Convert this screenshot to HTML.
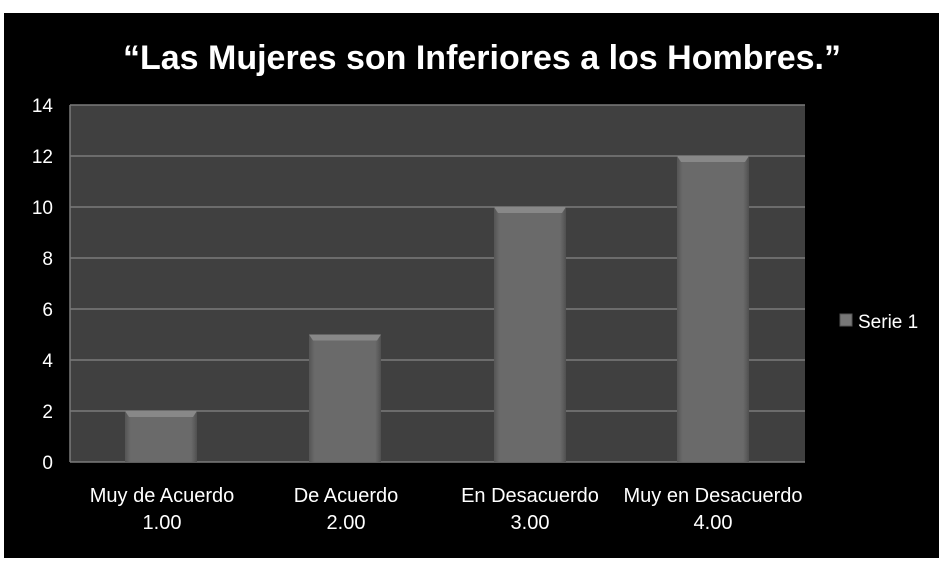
<!DOCTYPE html>
<html><head><style>
body{margin:0;background:#fff;width:943px;height:567px;overflow:hidden;font-family:"Liberation Sans",sans-serif}
</style></head><body>
<svg width="943" height="567" style="position:absolute;left:0;top:0">
<defs>
<linearGradient id="b" x1="0" x2="1" y1="0" y2="0">
<stop offset="0" stop-color="#555"/><stop offset="0.08" stop-color="#6a6a6a"/><stop offset="0.92" stop-color="#6a6a6a"/><stop offset="1" stop-color="#505050"/>
</linearGradient>
</defs>
<rect x="4" y="13" width="935" height="545" fill="#000"/>
<rect x="70" y="105" width="735" height="357" fill="#404040"/>
<g stroke="#7a7a7a" stroke-width="1.5">
<line x1="70" x2="805" y1="105" y2="105"/><line x1="70" x2="805" y1="156" y2="156"/>
<line x1="70" x2="805" y1="207" y2="207"/><line x1="70" x2="805" y1="258" y2="258"/>
<line x1="70" x2="805" y1="309" y2="309"/><line x1="70" x2="805" y1="360" y2="360"/>
<line x1="70" x2="805" y1="411" y2="411"/><line x1="70" x2="805" y1="462" y2="462"/>
<line x1="70" x2="70" y1="105" y2="462"/>
</g>
<g fill="url(#b)">
<rect x="125" y="411" width="72" height="51"/>
<rect x="309" y="334.5" width="72" height="127.5"/>
<rect x="494" y="207" width="72" height="255"/>
<rect x="677" y="156" width="72" height="306"/>
</g>
<g fill="#888">
<polygon points="125,411 197,411 193,417 129,417"/>
<polygon points="309,334.5 381,334.5 377,340.5 313,340.5"/>
<polygon points="494,207 566,207 562,213 498,213"/>
<polygon points="677,156 749,156 745,162 681,162"/>
</g>
<g fill="#fff" font-size="19" text-anchor="end">
<text x="53" y="112">14</text><text x="53" y="163">12</text><text x="53" y="214">10</text>
<text x="53" y="265">8</text><text x="53" y="316">6</text><text x="53" y="367">4</text>
<text x="53" y="418">2</text><text x="53" y="469">0</text>
</g>
<g fill="#fff" font-size="20" text-anchor="middle">
<text x="162" y="502">Muy de Acuerdo</text><text x="162" y="529">1.00</text>
<text x="346" y="502">De Acuerdo</text><text x="346" y="529">2.00</text>
<text x="530" y="502">En Desacuerdo</text><text x="530" y="529">3.00</text>
<text x="713" y="502">Muy en Desacuerdo</text><text x="713" y="529">4.00</text>
</g>
<text x="482" y="69" fill="#fff" font-size="34" font-weight="bold" text-anchor="middle">“Las Mujeres son Inferiores a los Hombres.”</text>
<rect x="840" y="314" width="12" height="12" fill="#777" stroke="#555"/>
<text x="858" y="328" fill="#fff" font-size="19">Serie 1</text>
</svg>
</body></html>
